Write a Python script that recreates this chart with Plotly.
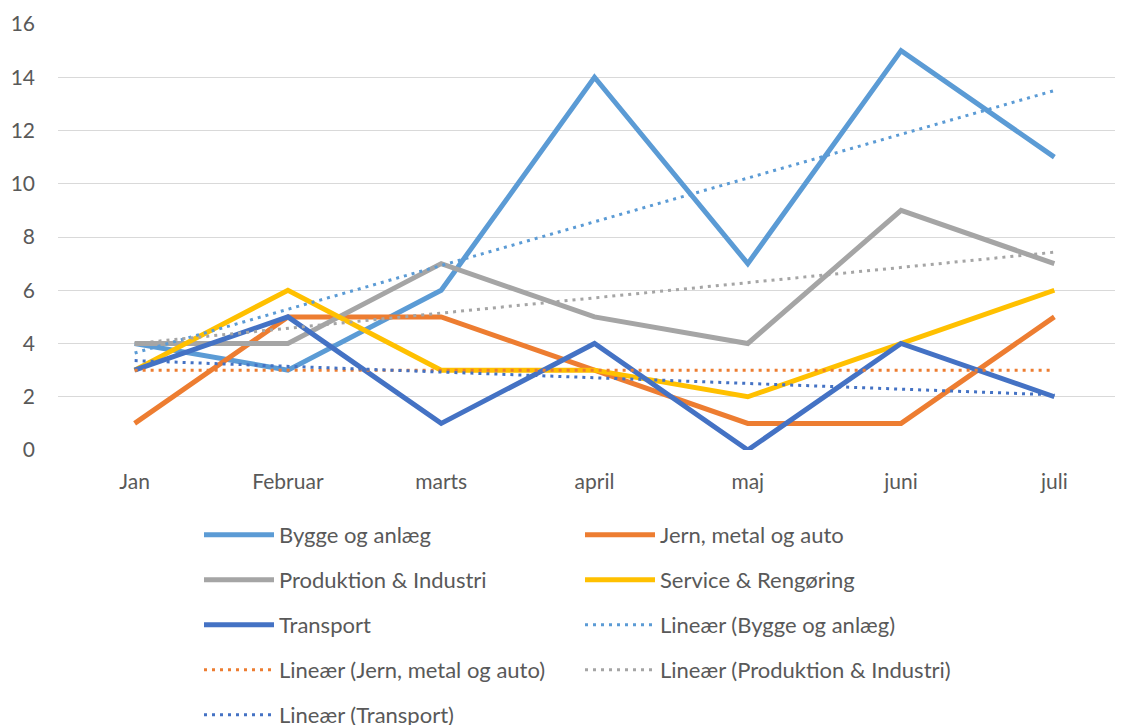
import numpy as np
import plotly.graph_objects as go

months = ["Jan", "Februar", "marts", "april", "maj", "juni", "juli"]
bygge = [4, 3, 6, 14, 7, 15, 11]
jern = [1, 5, 5, 3, 1, 1, 5]
produktion = [4, 4, 7, 5, 4, 9, 7]
service = [3, 6, 3, 3, 2, 4, 6]
transport = [3, 5, 1, 4, 0, 4, 2]

series = [
    ("Bygge og anlæg", bygge, "#5B9BD5"),
    ("Jern, metal og auto", jern, "#ED7D31"),
    ("Produktion & Industri", produktion, "#A5A5A5"),
    ("Service & Rengøring", service, "#FFC000"),
    ("Transport", transport, "#4472C4"),
]
trend_for = ["Bygge og anlæg", "Jern, metal og auto", "Produktion & Industri", "Transport"]

FONT = "Lato"
FS = 21
TXT = "#595959"

entries = []
for name, vals, col in series:
    entries.append(dict(x=months, y=vals, name=name, line=dict(color=col, width=5)))

xnum = np.arange(1, len(months) + 1)
for name, vals, col in series:
    if name in trend_for:
        k, b = np.polyfit(xnum, np.array(vals, dtype=float), 1)
        entries.append(dict(x=months, y=k * xnum + b, name="Lineær (" + name + ")",
                            line=dict(color=col, width=3, dash="3px,5px")))

fig = go.Figure()
for i, e in enumerate(entries):
    fig.add_trace(go.Scatter(mode="lines", legend="legend" if i % 2 == 0 else "legend2",
                             legendgroup="g%d" % i, **e))

# page body adds an 8px offset; margins compensate for it
ML, MT, MB, MR = 50, 16, 283, 0
PW = 1123 - ML - MR

leg_common = dict(orientation="v", xref="paper", yref="container",
                  xanchor="left", yanchor="top", traceorder="grouped",
                  tracegroupgap=13.4, itemwidth=70, bgcolor="rgba(0,0,0,0)",
                  font=dict(family=FONT, size=22, color=TXT))

fig.update_layout(
    width=1123, height=725,
    margin=dict(l=ML, r=MR, t=MT, b=MB),
    paper_bgcolor="white", plot_bgcolor="white",
    font=dict(family=FONT, size=FS, color=TXT),
    showlegend=True,
    legend=dict(x=(191 - ML) / PW, y=1 - 506 / 725, **leg_common),
    legend2=dict(x=(572 - ML) / PW, y=1 - 506 / 725, **leg_common),
    xaxis=dict(type="category", range=[-0.5, 6.5], showgrid=False, showline=False,
               zeroline=False, ticks="", ticklabelstandoff=17, automargin=False,
               tickfont=dict(family=FONT, size=FS, color=TXT)),
    yaxis=dict(range=[0, 16], dtick=2, showgrid=True, gridcolor="#D9D9D9", gridwidth=1.3,
               zeroline=False, showline=False, ticks="", ticklabelstandoff=22,
               automargin=False,
               tickfont=dict(family=FONT, size=FS, color=TXT)),
)
fig.write_html("out.html")
